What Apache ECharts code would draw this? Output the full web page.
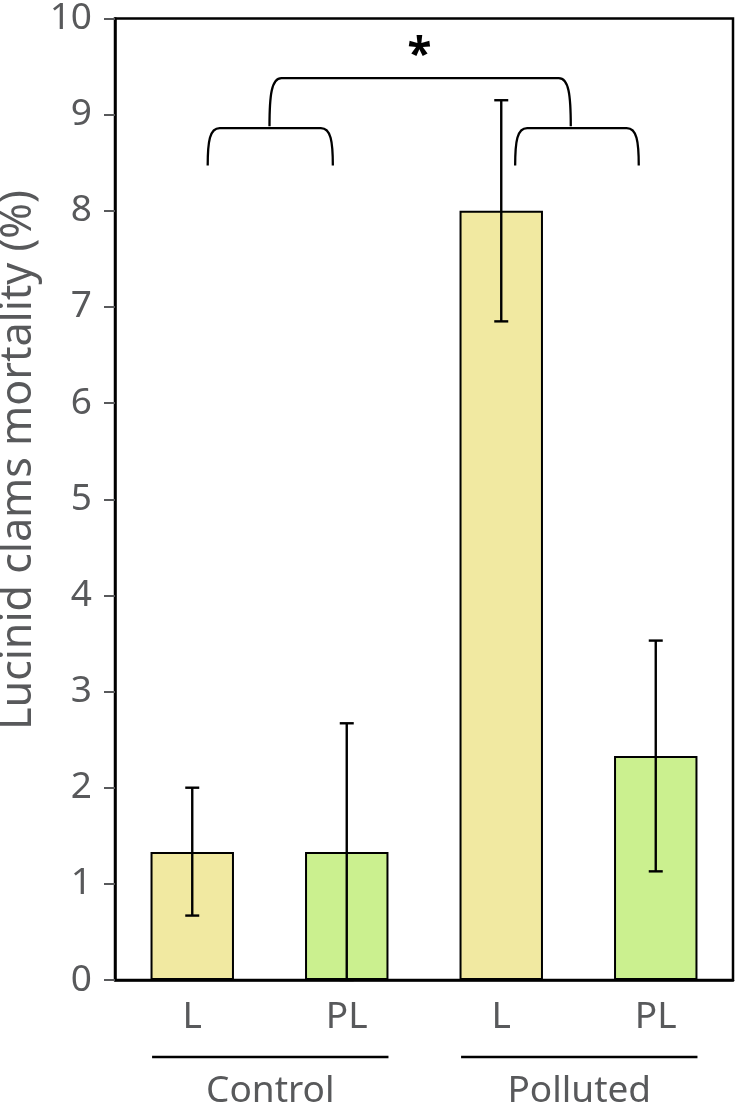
<!DOCTYPE html>
<html>
<head>
<meta charset="utf-8">
<script src="https://cdn.jsdelivr.net/npm/echarts@6/dist/echarts.min.js"></script>
<style>
html,body{margin:0;padding:0;background:#fff;}
#chart{width:737px;height:1108px;}
</style>
</head>
<body>
<div id="chart"></div>
<script>
// ---- data ----
const categories = ['L', 'PL', 'L', 'PL'];
const groups = ['Control', 'Polluted'];
const groupSpans = [[-0.26, 1.27], [1.74, 3.27]];
const means = [1.33, 1.33, 8.0, 2.33];
const errLow = [0.67, 0.0, 6.85, 1.13];
const errHigh = [2.0, 2.67, 9.15, 3.53];
const yTicks = [0, 1, 2, 3, 4, 5, 6, 7, 8, 9, 10];
const yAxisTitle = 'Lucinid clams mortality (%)';
// brackets: [xLeft, xRight, yBottom, yTop]
const brackets = [
  [0.10, 0.91, 8.47, 8.86],
  [2.09, 2.89, 8.47, 8.86],
  [0.50, 2.45, 8.88, 9.38]
];
const sigMark = ['*', 1.47, 9.6];

// ---- styles ----
const GRAY = '#58595b';
const FONT = 'Noto Sans';
const typeColor = { L: '#f1e9a1', PL: '#cbf08f' };

const chart = echarts.init(document.getElementById('chart'), null, { renderer: 'canvas' });

const option = {
  animation: false,
  backgroundColor: '#fff',
  grid: {
    left: 115, right: 4, top: 15, bottom: 128,
    show: true, borderColor: '#000', borderWidth: 2.5, containLabel: false
  },
  graphic: [{
    type: 'text',
    x: 19, y: 460,
    rotation: Math.PI / 2,
    style: {
      text: yAxisTitle,
      fill: GRAY,
      font: '43px "' + FONT + '"',
      align: 'center',
      verticalAlign: 'middle'
    }
  }],
  xAxis: [{
    type: 'category',
    data: categories,
    axisLine: { onZero: false, lineStyle: { color: '#000', width: 2.5 } },
    axisTick: { show: false },
    axisLabel: { color: GRAY, fontSize: 37, fontFamily: FONT, margin: 19 },
    splitLine: { show: false }
  }, {
    type: 'value',
    min: -0.5, max: 3.5,
    show: false
  }],
  yAxis: {
    type: 'value',
    min: yTicks[0], max: yTicks[yTicks.length - 1], interval: 1,
    axisLine: { show: true, onZero: false, lineStyle: { color: '#000', width: 2.5 } },
    axisTick: { show: true, length: 11, lineStyle: { color: GRAY, width: 2 } },
    axisLabel: { color: GRAY, fontSize: 37, fontFamily: FONT, margin: 23 },
    splitLine: { show: false }
  },
  series: [{
    type: 'bar',
    xAxisIndex: 0,
    barWidth: '54%',
    data: means.map((v, i) => ({
      value: v,
      itemStyle: { color: typeColor[categories[i]], borderColor: '#000', borderWidth: 2 }
    })),
    z: 2
  }, {
    type: 'custom',
    xAxisIndex: 0,
    z: 5,
    data: means.map((v, i) => [i, errLow[i], errHigh[i]]),
    renderItem: function (params, api) {
      const lo = api.coord([api.value(0), api.value(1)]);
      const hi = api.coord([api.value(0), api.value(2)]);
      const w = 7;
      const st = { stroke: '#000', lineWidth: 2.4 };
      return {
        type: 'group',
        children: [
          { type: 'line', shape: { x1: hi[0], y1: hi[1], x2: lo[0], y2: lo[1] }, style: st },
          { type: 'line', shape: { x1: hi[0] - w, y1: hi[1], x2: hi[0] + w, y2: hi[1] }, style: st },
          { type: 'line', shape: { x1: lo[0] - w, y1: lo[1], x2: lo[0] + w, y2: lo[1] }, style: st }
        ]
      };
    }
  }, {
    type: 'custom',
    xAxisIndex: 1,
    z: 5,
    clip: false,
    data: brackets,
    renderItem: function (params, api) {
      const bl = api.coord([api.value(0), api.value(2)]);
      const tr = api.coord([api.value(1), api.value(3)]);
      const xl = bl[0], yb = bl[1], xr = tr[0], yt = tr[1];
      const r = 12;
      const h = yb - yt;
      const path = 'M' + xl + ',' + yb +
        ' C' + xl + ',' + (yt + h * 0.35) + ' ' + (xl + 2) + ',' + yt + ' ' + (xl + r) + ',' + yt +
        ' L' + (xr - r) + ',' + yt +
        ' C' + (xr - 2) + ',' + yt + ' ' + xr + ',' + (yt + h * 0.35) + ' ' + xr + ',' + yb;
      return {
        type: 'path',
        shape: { pathData: path },
        style: { stroke: '#000', lineWidth: 2.3, fill: null }
      };
    }
  }, {
    type: 'custom',
    xAxisIndex: 1,
    z: 5,
    clip: false,
    data: [[sigMark[1], sigMark[2]]],
    renderItem: function (params, api) {
      const p = api.coord([api.value(0), api.value(1)]);
      return {
        type: 'text',
        x: p[0], y: p[1],
        style: {
          text: sigMark[0], fill: '#000',
          font: 'bold 44px "' + FONT + '"',
          align: 'center', verticalAlign: 'middle'
        }
      };
    }
  }, {
    type: 'custom',
    xAxisIndex: 1,
    z: 5,
    clip: false,
    data: groupSpans,
    renderItem: function (params, api) {
      const a = api.coord([api.value(0), 0]);
      const b = api.coord([api.value(1), 0]);
      const yLine = a[1] + 77;
      return {
        type: 'group',
        children: [
          { type: 'line', shape: { x1: a[0], y1: yLine, x2: b[0], y2: yLine },
            style: { stroke: '#000', lineWidth: 2.5 } },
          { type: 'text', x: (a[0] + b[0]) / 2, y: yLine + 34,
            style: { text: groups[params.dataIndex], fill: GRAY,
              font: '37px "' + FONT + '"', align: 'center', verticalAlign: 'middle' } }
        ]
      };
    }
  }]
};

chart.setOption(option);
</script>
</body>
</html>
